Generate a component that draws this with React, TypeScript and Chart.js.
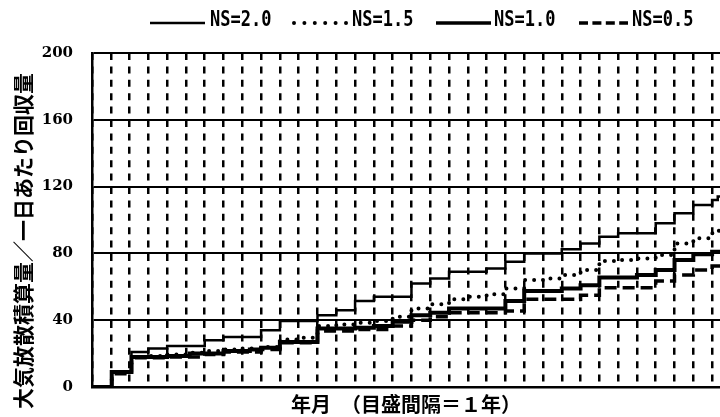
import React, { useEffect, useRef } from "react";
import { Chart, registerables } from "chart.js";

Chart.register(...registerables);

// ---- data (x = years from start, y = value) ----
const seriesNames = ["NS=2.0", "NS=1.5", "NS=1.0", "NS=0.5"];
const yTicks = [0, 40, 80, 120, 160, 200];
const xMax = 33.42;
const xTitle = "年月　（目盛間隔＝１年）";
const yTitle = "大気放散積算量／一日あたり回収量";

const ns20: [number, number][] = [
  [0, 0], [1.05, 9.5], [2.1, 21], [3, 23], [4, 24.5], [6, 28], [7, 30], [9, 34], [10, 39.5],
  [12, 43], [13, 46], [14, 51.5], [15, 54], [17, 62], [18, 65], [19, 69], [21, 71], [22, 75],
  [23, 80], [25, 82.5], [26, 86], [27, 90], [28, 92], [30, 98], [31, 104], [32, 109], [33, 112],
  [33.3, 114], [34, 114],
];
const ns15: [number, number][] = [
  [0, 0], [1.05, 9], [2.1, 18], [3, 18.5], [4, 19.5], [5, 20.5], [6, 21.5], [7, 22.5], [8, 23],
  [9, 24], [10, 28.5], [11, 29.5], [12, 36.5], [13, 37.5], [14, 38.5], [15, 39.5], [16, 42],
  [17, 47], [18, 49.5], [19, 52.5], [20, 54], [21, 55.5], [22, 59], [23, 64], [24, 65], [25, 67],
  [26, 70], [27, 75.5], [28, 76], [29, 77], [30, 79], [31, 86], [32, 89], [33, 92], [33.3, 93.5],
  [34, 93.5],
];
const ns10: [number, number][] = [
  [0, 0], [1.05, 9], [2.1, 18], [4, 18.5], [5.2, 20], [7, 21.5], [8.4, 22.5], [9, 23.5], [10, 27],
  [12, 35], [14, 35.5], [15, 36.5], [16, 39], [17, 43], [18, 44.5], [19, 47], [22, 51.5],
  [23, 57.5], [25, 59], [26, 61], [27, 65.5], [29, 67], [30, 70], [31, 76], [32, 79.5], [33, 81],
  [34, 81],
];
const ns05: [number, number][] = [
  [0, 0], [1.05, 8], [2.1, 17.5], [4, 18], [6, 19.5], [7, 21], [9, 22.5], [10, 26.5], [12, 33.5],
  [14, 34.5], [16, 36.5], [17, 40], [18, 42], [19, 44.5], [22, 45.5], [23, 52.5], [26, 55],
  [27, 59.5], [30, 63.5], [31, 67], [32, 70], [33, 72.5], [34, 72.5],
];

const toXY = (arr: [number, number][]) => arr.map(([x, y]) => ({ x, y }));

const legendPlugin = {
  id: "customLegend",
  afterDraw(chart: any) {
    const ctx = chart.ctx as CanvasRenderingContext2D;
    const items = [
      { x1: 150, x2: 205, tx: 210, w: 2.5, dash: [] as number[], cap: "butt" },
      { x1: 294, x2: 350, tx: 352, w: 4, dash: [0, 10.4], cap: "round" },
      { x1: 436, x2: 491, tx: 494, w: 3.5, dash: [] as number[], cap: "butt" },
      { x1: 579, x2: 628, tx: 632, w: 3.5, dash: [9, 4.4], cap: "butt" },
    ];
    const ly = 23;
    items.forEach((it, i) => {
      ctx.save();
      ctx.strokeStyle = "#000";
      ctx.lineWidth = it.w;
      ctx.lineCap = it.cap as CanvasLineCap;
      ctx.setLineDash(it.dash);
      ctx.beginPath();
      ctx.moveTo(it.x1, ly);
      ctx.lineTo(it.x2, ly);
      ctx.stroke();
      ctx.restore();
      ctx.save();
      ctx.fillStyle = "#000";
      ctx.font = "bold 17px 'DejaVu Sans Mono'";
      ctx.textAlign = "left";
      ctx.textBaseline = "middle";
      ctx.translate(it.tx, 21);
      ctx.scale(1, 1.2);
      ctx.fillText(seriesNames[i], 0, 0);
      ctx.restore();
    });
    // y-axis title
    ctx.save();
    ctx.fillStyle = "#000";
    ctx.font = "bold 21px 'Noto Sans CJK JP'";
    ctx.textAlign = "center";
    ctx.textBaseline = "middle";
    ctx.translate(23, 241);
    ctx.rotate(-Math.PI / 2);
    ctx.fillText(yTitle, 0, 0);
    ctx.restore();
  },
};

export default function App() {
  const ref = useRef<HTMLCanvasElement>(null);
  useEffect(() => {
    const common = { pointRadius: 0, pointHoverRadius: 0, fill: false, stepped: true, borderColor: "#000", backgroundColor: "#000", tension: 0 };
    const chart = new Chart(ref.current as HTMLCanvasElement, {
      type: "line",
      data: {
        datasets: [
          { ...common, label: seriesNames[0], data: toXY(ns20), borderWidth: 2.5 },
          { ...common, label: seriesNames[1], data: toXY(ns15), borderWidth: 4, borderDash: [0, 9], borderCapStyle: "round" },
          { ...common, label: seriesNames[2], data: toXY(ns10), borderWidth: 4 },
          { ...common, label: seriesNames[3], data: toXY(ns05), borderWidth: 3.5, borderDash: [12, 6] },
        ] as any,
      },
      options: {
        responsive: false,
        animation: false,
        events: [],
        layout: { padding: { top: 53, left: 0, right: 0, bottom: 0 } },
        plugins: { legend: { display: false }, tooltip: { enabled: false }, title: { display: false } },
        scales: {
          x: {
            type: "linear",
            min: 0,
            max: xMax,
            ticks: { display: false, stepSize: 1, includeBounds: false },
            grid: { color: "#000", lineWidth: 2.5, drawTicks: false },
            border: { display: true, color: "#000", width: 2.5, dash: [7, 6.4] },
            title: {
              display: true,
              text: xTitle,
              color: "#000",
              font: { family: "'Noto Sans CJK JP'", weight: "bold", size: 20 },
              padding: { top: 0, bottom: 1 },
            },
            afterFit: (s: any) => { s.height = 30; },
          },
          y: {
            type: "linear",
            min: 0,
            max: 200,
            afterBuildTicks: (s: any) => { s.ticks = yTicks.map((v) => ({ value: v })); },
            ticks: { color: "#000", padding: 19, font: { family: "'DejaVu Serif'", weight: "bold", size: 15 } },
            grid: { color: "#000", lineWidth: 2, drawTicks: false },
            border: { display: true, color: "#000", width: 2.5 },
            afterFit: (s: any) => { s.width = 92; },
          },
        },
      } as any,
      plugins: [legendPlugin],
    });
    return () => chart.destroy();
  }, []);
  return (
    <div style={{ position: "absolute", left: 0, top: 0, width: 720, height: 417, background: "#fff" }}>
      <canvas ref={ref} width={720} height={417} style={{ display: "block" }} />
    </div>
  );
}
